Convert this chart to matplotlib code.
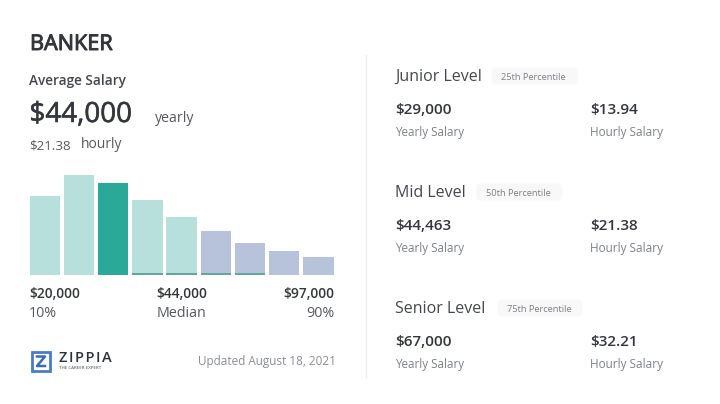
import matplotlib
matplotlib.use("Agg")
import matplotlib.pyplot as plt
import matplotlib.patheffects as pe
from matplotlib.patches import FancyBboxPatch, Rectangle

plt.rcParams['font.family'] = ['Open Sans', 'DejaVu Sans']

bar_heights = [79, 100, 92, 75, 58, 44, 32.5, 24, 18]
bar_colors = ['#b7dfdb', '#b7dfdb', '#2aa999', '#b7dfdb', '#b7dfdb',
              '#b6c3da', '#b6c3da', '#b6c3da', '#b6c3da']
strip_heights = [0, 0, 0, 2, 2, 2, 2, 0, 0]

title = "BANKER"
levels = ["Junior Level", "Mid Level", "Senior Level"]
percentiles = ["25th Percentile", "50th Percentile", "75th Percentile"]
yearly = ["$29,000", "$44,463", "$67,000"]
hourly = ["$13.94", "$21.38", "$32.21"]

DARK = '#33373d'
GREY = '#7d8288'
W, H = 720, 404

fig = plt.figure(figsize=(7.2, 4.04), dpi=100, facecolor='white')
bg = fig.add_axes([0, 0, 1, 1])
bg.set_xlim(0, W)
bg.set_ylim(H, 0)
bg.axis('off')

def t(x, y, s, size, color=DARK, weight='normal', ha='left', stroke=0, **kw):
    txt = bg.text(x, y, s, fontsize=size, color=color, fontweight=weight, ha=ha, va='center', **kw)
    if stroke:
        txt.set_path_effects([pe.withStroke(linewidth=stroke, foreground=color)])

t(30, 44.5, title, 15.6, stroke=0.7)
t(29, 80.5, "Average Salary", 9.8, weight='semibold', color='#44484e')
t(29.5, 115, "$44,000", 20, stroke=0.4)
t(155, 118.5, "yearly", 10.2, color='#55595f')
t(29, 146, "$21.38", 9.6, color='#55595f')
t(81, 144.5, "hourly", 10, color='#55595f')

ax = fig.add_axes([27.65 / W, 1 - 275 / H, 307.8 / W, 100 / H])
ax.bar(range(len(bar_heights)), bar_heights, width=0.89, color=bar_colors)
ax.bar(range(len(strip_heights)), strip_heights, width=0.89, color='#5fa79f')
ax.set_xlim(-0.5, 8.5)
ax.set_ylim(0, 100)
ax.axis('off')

t(29.5, 293.5, "$20,000", 9.9, weight='semibold')
t(182, 293.5, "$44,000", 9.9, weight='semibold', ha='center')
t(334, 293.5, "$97,000", 9.9, weight='semibold', ha='right')
t(29, 313.5, "10%", 10.3, color='#55595f')
t(181.5, 313.5, "Median", 10.3, color='#55595f', ha='center')
t(334.5, 313.5, "90%", 10.3, color='#55595f', ha='right')

# logo
LOGO = '#4a7cc4'
bg.add_patch(Rectangle((32, 352), 18, 18.5, fill=False, ec=LOGO, lw=2))
bg.plot([37, 45, 37, 45], [356.5, 356.5, 366, 366], color='#3a6db8', lw=1.8)
t(59, 358, "Z\u200aI\u200aP\u200aP\u200aI\u200aA", 10.5, color='#2d3138', weight='semibold')
t(59, 368, "THE CAREER EXPERT", 3.2, color='#666a70', weight='semibold')
t(335.5, 361.5, "Updated August 18, 2021", 8.5, color='#8a8e93', ha='right')

bg.plot([365.5, 365.5], [55, 378], color='#efefef', lw=1)

ys = [76, 192, 308]
chip_x = [491, 476, 497]
chip_w = [87, 87, 86]
for i in range(3):
    y = ys[i]
    t(395, y + 1, levels[i], 11.5, color='#44484e')
    bg.add_patch(FancyBboxPatch((chip_x[i] + 2, y - 7), chip_w[i] - 4, 14,
                                boxstyle='round,pad=0,rounding_size=3',
                                fc='#f8f8f8', ec='#f8f8f8', lw=2))
    t(chip_x[i] + chip_w[i] / 2 - 1, y + 1, percentiles[i], 6.7, color='#7c8086', ha='center')
    t(395, y + 34, yearly[i], 11, weight='semibold')
    t(395, y + 56.5, "Yearly Salary", 8.4, color=GREY)
    t(590.5, y + 34, hourly[i], 11, weight='semibold')
    t(590.5, y + 56.5, "Hourly Salary", 8.5, color=GREY)

fig.savefig('out.png', dpi=100, facecolor='white')
